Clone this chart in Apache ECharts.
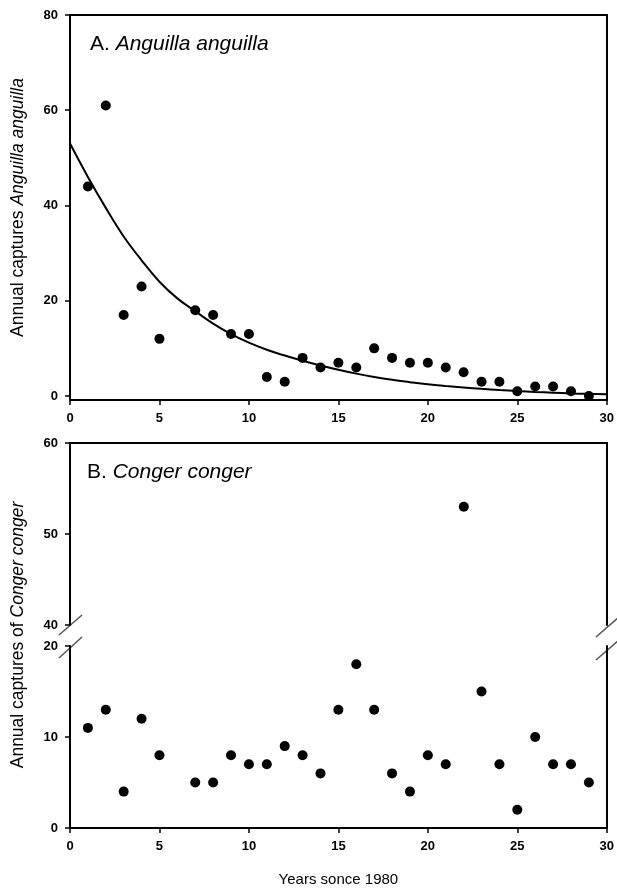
<!DOCTYPE html>
<html>
<head>
<meta charset="utf-8">
<script src="https://cdn.jsdelivr.net/npm/echarts@6/dist/echarts.min.js"></script>
<style>
html, body { margin: 0; padding: 0; background: #fff; }
#main { width: 617px; height: 892px; }
</style>
</head>
<body>
<div id="main"></div>
<script>
// years with captures (1986 missing in both series)
var years = [1, 2, 3, 4, 5, 7, 8, 9, 10, 11, 12, 13, 14, 15, 16, 17, 18, 19, 20, 21, 22, 23, 24, 25, 26, 27, 28, 29];
var anguilla = [44, 61, 17, 23, 12, 18, 17, 13, 13, 4, 3, 8, 6, 7, 6, 10, 8, 7, 7, 6, 5, 3, 3, 1, 2, 2, 1, 0];
var conger = [11, 13, 4, 12, 8, 5, 5, 8, 7, 7, 9, 8, 6, 13, 18, 13, 6, 4, 8, 7, 53, 15, 7, 2, 10, 7, 7, 5];

// fitted curve
var fitYears = [0, 1, 2, 3, 4, 5, 6, 7, 8, 9, 10, 11, 12, 13, 14, 15, 16, 17, 18, 19, 20, 21, 22, 23, 24, 25, 26, 27, 28, 29, 30];
var fitValues = [53, 46, 39.5, 33.5, 28.5, 24, 20.5, 17.8, 15.2, 13, 11.2, 9.7, 8.5, 7.4, 6.4, 5.5, 4.7, 4, 3.4, 2.9, 2.45, 2.1, 1.8, 1.5, 1.25, 1.05, 0.85, 0.7, 0.55, 0.45, 0.35];

var yTicksA = [0, 20, 40, 60, 80];

var FONT = 'Liberation Sans, Arial, sans-serif';
var lineStyle = { color: '#000', width: 2 };

function pairs(xs, ys, test) {
    var out = [];
    for (var i = 0; i < xs.length; i++) {
        if (!test || test(ys[i])) out.push([xs[i], ys[i]]);
    }
    return out;
}

function xAx(grid, pos, labels) {
    return {
        type: 'value', gridIndex: grid, position: pos,
        min: 0, max: 30, interval: 5,
        axisLine: { show: true, onZero: false, lineStyle: lineStyle },
        axisTick: { show: labels, inside: false, length: 5, lineStyle: { color: '#000', width: 1.5 } },
        axisLabel: { show: labels, margin: 12, color: '#000', fontFamily: FONT, fontSize: 13, fontWeight: 'bold' },
        splitLine: { show: false }
    };
}

function yAx(grid, pos, min, max, labels) {
    return {
        type: 'value', gridIndex: grid, position: pos,
        min: min, max: max, interval: 10,
        axisLine: { show: true, onZero: false, lineStyle: lineStyle },
        axisTick: { show: labels, length: 5, lineStyle: { color: '#000', width: 1.5 } },
        axisLabel: { show: labels, margin: 12, color: '#000', fontFamily: FONT, fontSize: 13, fontWeight: 'bold' },
        splitLine: { show: false }
    };
}

function richTitle(size) {
    return {
        n: { fontFamily: FONT, fontSize: size, color: '#000', fontWeight: 'normal' },
        i: { fontFamily: FONT, fontSize: size, color: '#000', fontWeight: 'normal', fontStyle: 'italic' }
    };
}

var yA = yAx(0, 'left', -0.84, 80, true);
delete yA.interval;
yA.axisTick.customValues = yTicksA;
yA.axisLabel.customValues = yTicksA;
yA.name = '{n|Annual captures }{i|Anguilla anguilla}';
yA.nameLocation = 'middle';
yA.nameGap = 43;
yA.nameTextStyle = { rich: richTitle(17.5) };
var yAr = yAx(0, 'right', -0.84, 80, false);

var xB = xAx(2, 'bottom', true);
xB.name = 'Years sonce 1980';
xB.nameLocation = 'middle';
xB.nameGap = 44;
xB.nameTextStyle = { fontFamily: FONT, fontSize: 15, color: '#000' };

var breakLine = { stroke: '#555', lineWidth: 1.5 };
var dot = { color: '#000', opacity: 1 };

var myChart = echarts.init(document.getElementById('main'));
myChart.setOption({
    backgroundColor: '#fff',
    animation: false,
    title: [{
        text: '{n|A. }{i|Anguilla anguilla}',
        left: 85, top: 29,
        textStyle: { fontWeight: 'normal', rich: richTitle(21) }
    }, {
        text: '{n|B. }{i|Conger conger}',
        left: 82, top: 457,
        textStyle: { fontWeight: 'normal', rich: richTitle(21) }
    }],
    grid: [
        { left: 70, right: 10, top: 15, bottom: 492 },
        { left: 70, right: 10, top: 443, bottom: 267 },
        { left: 70, right: 10, top: 646, bottom: 64 }
    ],
    xAxis: [
        xAx(0, 'bottom', true),
        xAx(0, 'top', false),
        xAx(1, 'top', false),
        xB
    ],
    yAxis: [
        yA,
        yAr,
        yAx(1, 'left', 40, 60, true),
        yAx(1, 'right', 40, 60, false),
        yAx(2, 'left', 0, 20, true),
        yAx(2, 'right', 0, 20, false)
    ],
    graphic: [
        {
            type: 'text', x: 18, y: 635, rotation: Math.PI / 2,
            style: {
                text: '{n|Annual captures of }{i|Conger conger}',
                align: 'center', verticalAlign: 'middle',
                rich: {
                    n: { fontFamily: FONT, fontSize: 17.5, fill: '#000' },
                    i: { fontFamily: FONT, fontSize: 17.5, fill: '#000', fontStyle: 'italic' }
                }
            }
        },
        { type: 'line', shape: { x1: 59, y1: 635, x2: 82, y2: 615 }, style: breakLine },
        { type: 'line', shape: { x1: 59, y1: 658, x2: 82, y2: 637 }, style: breakLine },
        { type: 'line', shape: { x1: 596, y1: 637, x2: 619, y2: 617 }, style: breakLine },
        { type: 'line', shape: { x1: 596, y1: 660, x2: 619, y2: 640 }, style: breakLine }
    ],
    series: [{
        name: 'fit',
        type: 'line',
        xAxisIndex: 0, yAxisIndex: 0,
        smooth: 0.4,
        showSymbol: false,
        lineStyle: { color: '#000', width: 2 },
        data: pairs(fitYears, fitValues)
    }, {
        name: 'Anguilla anguilla',
        type: 'scatter',
        xAxisIndex: 0, yAxisIndex: 0,
        symbolSize: 10,
        itemStyle: dot,
        data: pairs(years, anguilla)
    }, {
        name: 'Conger conger high',
        type: 'scatter',
        xAxisIndex: 2, yAxisIndex: 2,
        symbolSize: 10,
        itemStyle: dot,
        data: pairs(years, conger, function(v) { return v > 30; })
    }, {
        name: 'Conger conger',
        type: 'scatter',
        xAxisIndex: 3, yAxisIndex: 4,
        symbolSize: 10,
        itemStyle: dot,
        data: pairs(years, conger, function(v) { return v <= 30; })
    }]
});
</script>
</body>
</html>
